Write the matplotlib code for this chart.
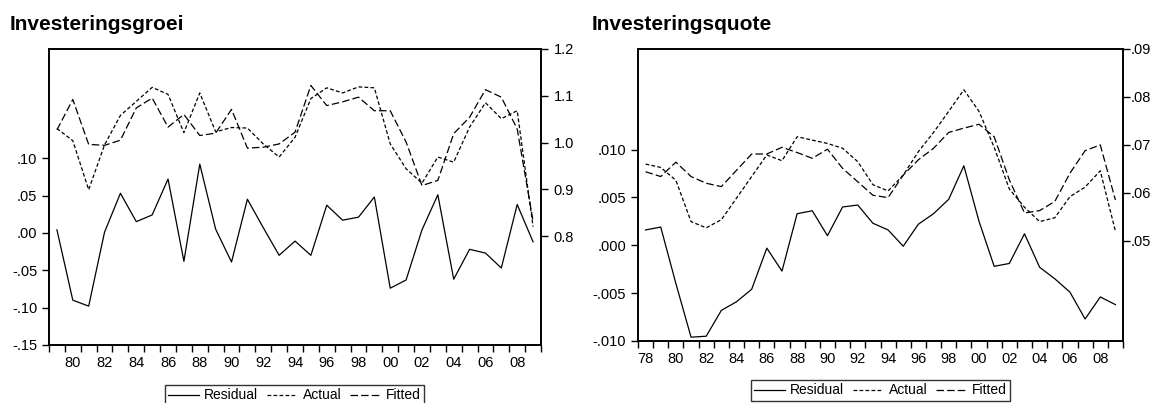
import matplotlib
matplotlib.use('Agg')
from matplotlib import pyplot as plt
from matplotlib.ticker import FuncFormatter

plt.rcParams['font.family'] = ['Liberation Sans', 'DejaVu Sans']

# --- Investeringsgroei (1979-2009)
years_g = list(range(1979, 2010))
resid_g = [0.004, -0.090, -0.098, 0.001, 0.053, 0.015, 0.024, 0.072, -0.038, 0.092,
           0.005, -0.039, 0.045, 0.007, -0.030, -0.011, -0.030, 0.037, 0.017, 0.021,
           0.048, -0.074, -0.063, 0.004, 0.051, -0.062, -0.022, -0.027, -0.047, 0.038,
           -0.012]
actual_g = [1.030, 1.004, 0.899, 0.995, 1.058, 1.088, 1.118, 1.103, 1.021, 1.106,
            1.023, 1.032, 1.031, 0.997, 0.969, 1.011, 1.094, 1.117, 1.106, 1.119,
            1.117, 0.997, 0.944, 0.913, 0.969, 0.958, 1.033, 1.085, 1.051, 1.068,
            0.820]
fitted_g = [1.027, 1.092, 0.996, 0.994, 1.005, 1.074, 1.095, 1.033, 1.060, 1.015,
            1.020, 1.071, 0.988, 0.990, 0.997, 1.022, 1.122, 1.079, 1.087, 1.097,
            1.068, 1.068, 1.001, 0.908, 0.919, 1.019, 1.054, 1.113, 1.097, 1.029,
            0.832]

# --- Investeringsquote (1978-2009)
years_q = list(range(1978, 2010))
resid_q = [0.0016, 0.0019, -0.0040, -0.0096, -0.0095, -0.0068, -0.0059, -0.0046,
           -0.0003, -0.0027, 0.0033, 0.0036, 0.0010, 0.0040, 0.0042, 0.0023,
           0.0016, -0.0001, 0.0022, 0.0033, 0.0048, 0.0083, 0.0025, -0.0022,
           -0.0019, 0.0012, -0.0023, -0.0035, -0.0049, -0.0077, -0.0054, -0.0062]
actual_q = [0.0660, 0.0653, 0.0626, 0.0540, 0.0527, 0.0544, 0.0589, 0.0634,
            0.0679, 0.0667, 0.0717, 0.0710, 0.0703, 0.0693, 0.0665, 0.0617,
            0.0604, 0.0637, 0.0686, 0.0726, 0.0770, 0.0815, 0.0770, 0.0695,
            0.0608, 0.0570, 0.0540, 0.0548, 0.0592, 0.0612, 0.0646, 0.0520]
fitted_q = [0.0644, 0.0634, 0.0664, 0.0634, 0.0620, 0.0613, 0.0647, 0.0681,
            0.0681, 0.0695, 0.0684, 0.0672, 0.0691, 0.0651, 0.0623, 0.0595,
            0.0590, 0.0637, 0.0669, 0.0693, 0.0726, 0.0735, 0.0743, 0.0717,
            0.0627, 0.0558, 0.0563, 0.0582, 0.0641, 0.0688, 0.0700, 0.0585]


def strip_zero(fmt):
    def f(v, pos):
        s = format(v, fmt)
        return s.replace('0.', '.', 1)
    return FuncFormatter(f)


def panel(rect, title, tx, years, resid, actual, fitted,
          lim_l, ticks_l, fmt_l, lim_r, ticks_r, fmt_r, rpad, leg_x, leg_y):
    ax = fig.add_axes(rect)
    ax2 = ax.twinx()
    h0, = ax.plot(years, resid, color='black', lw=0.9, label='Residual')
    l1, = ax2.plot(years, actual, color='black', lw=0.9, dashes=(3, 1.8), label='Actual')
    l2, = ax2.plot(years, fitted, color='black', lw=0.9, dashes=(6, 2.5), label='Fitted')
    ax.set_ylim(*lim_l)
    ax.set_yticks(ticks_l)
    ax.yaxis.set_major_formatter(fmt_l)
    ax2.set_ylim(*lim_r)
    ax2.set_yticks(ticks_r)
    ax2.yaxis.set_major_formatter(fmt_r)
    ax.set_xlim(years[0] - 0.5, years[-1] + 0.5)
    ax.set_xticks([y - 0.5 for y in years] + [years[-1] + 0.5])
    ax.set_xticklabels([])
    ax.set_xticks([y for y in years if y % 2 == 0], minor=True)
    ax.set_xticklabels(['%02d' % (y % 100) for y in years if y % 2 == 0], minor=True)
    ax.tick_params(axis='x', which='major', direction='out', length=5, width=1)
    ax.tick_params(axis='x', which='minor', length=0, labelsize=10.5, pad=8)
    ax.tick_params(axis='y', direction='out', length=5, width=1, labelsize=10.5)
    ax2.tick_params(axis='y', direction='out', length=5, width=1, labelsize=10.5, pad=rpad)
    for a in (ax, ax2):
        for sp in a.spines.values():
            sp.set_linewidth(1.2)
    fig.text(tx, 1 - 30 / 403, title, fontsize=15, fontweight='bold', va='baseline')
    leg = fig.legend([h0, l1, l2], ['Residual', 'Actual', 'Fitted'], ncol=3,
                     loc='upper center', bbox_to_anchor=(leg_x, leg_y),
                     fontsize=10, frameon=True, fancybox=False, edgecolor='black',
                     handlelength=2.2, columnspacing=0.6, handletextpad=0.4,
                     borderpad=0.25, borderaxespad=0)
    leg.get_frame().set_linewidth(1.0)
    return ax


fig = plt.figure(figsize=(11.52, 4.03), dpi=100)

panel([49 / 1152, 1 - 345 / 403, 492 / 1152, 296 / 403], 'Investeringsgroei', 10 / 1152,
      years_g, resid_g, actual_g, fitted_g,
      (-0.15, 0.246), [-0.15, -0.10, -0.05, 0.0, 0.05, 0.10], strip_zero('.2f'),
      (0.567, 1.2), [0.8, 0.9, 1.0, 1.1, 1.2], FuncFormatter(lambda v, p: '%.1f' % v),
      4, 294.5 / 1152, 1 - 385 / 403)

panel([638 / 1152, 1 - 341 / 403, 485 / 1152, 292 / 403], 'Investeringsquote', 592 / 1152,
      years_q, resid_q, actual_q, fitted_q,
      (-0.010, 0.0205), [-0.010, -0.005, 0.0, 0.005, 0.010], strip_zero('.3f'),
      (0.0291, 0.09), [0.05, 0.06, 0.07, 0.08, 0.09], strip_zero('.2f'),
      0.8, 880.5 / 1152, 1 - 380 / 403)

plt.savefig('out.png', dpi=100)
